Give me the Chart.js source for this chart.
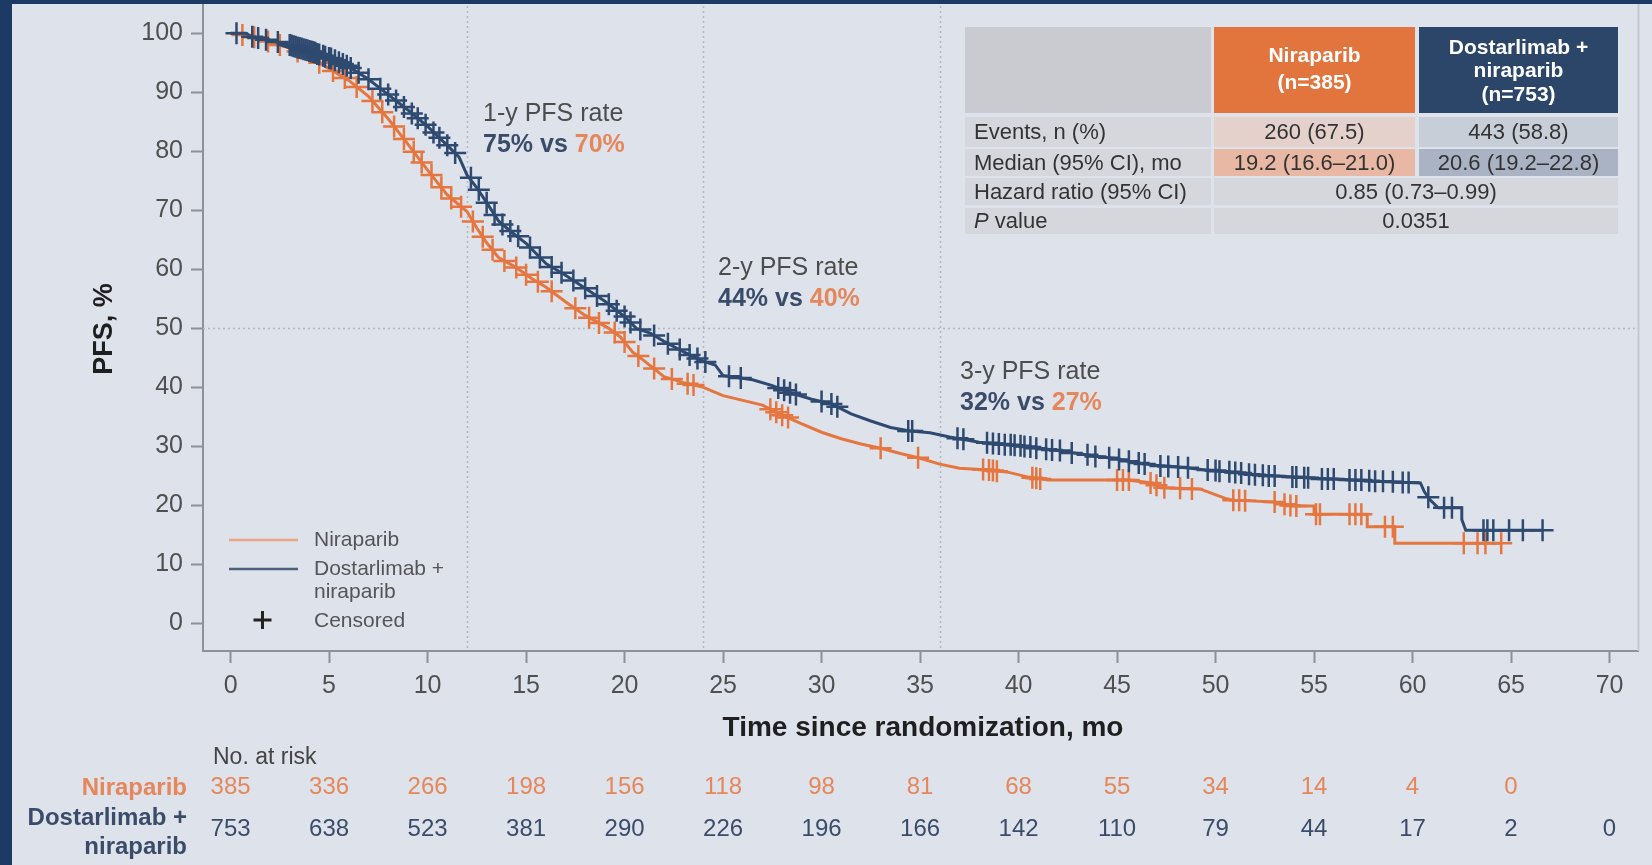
<!DOCTYPE html>
<html>
<head>
<meta charset="utf-8">
<script src="https://cdn.jsdelivr.net/npm/chart.js@4.4.1/dist/chart.umd.min.js"></script>
<style>
  html, body { margin: 0; padding: 0; background: #dee2ea; }
  #wrap { position: relative; width: 1652px; height: 865px; overflow: hidden; background: #dee2ea; }
  #wrap::before { content: ''; position: absolute; left: 0; top: 0; width: 12px; height: 865px; background: #1c3a64; }
  #wrap::after { content: ''; position: absolute; left: 0; top: 0; width: 1652px; height: 4px; background: #1c3a64; }
  canvas { position: absolute; left: 0; top: 0; }
</style>
</head>
<body>
<div id="wrap"><canvas id="km" width="1652" height="865"></canvas></div>
<script>
// ---- Axis ticks ----
const xTicks = [0, 5, 10, 15, 20, 25, 30, 35, 40, 45, 50, 55, 60, 65, 70];
const yTicks = [0, 10, 20, 30, 40, 50, 60, 70, 80, 90, 100];
const refMonths = [12, 24, 36];
const refPfs = 50;

// ---- Dostarlimab + niraparib: PFS curve (months, %) ----
const dostTime = [0, 0.8, 1, 2, 3, 4, 5, 6, 7, 8, 9, 10, 11, 11.6, 12, 12.5, 13, 13.6, 14.3, 15,
  16, 17, 18, 19, 20, 20.6, 21.3, 22, 23, 24, 24.6, 25.0, 26.5, 27.5, 28.5, 29.5, 30.5, 31.5, 32.5, 33.5,
  34.5, 35.5, 36.5, 38, 39.5, 41, 42, 43, 44, 45, 46, 47, 48.5, 49.5, 51, 52, 53.5, 55, 56.5, 58,
  60.4, 60.6, 60.9, 61.3, 62.5, 62.5, 62.7, 66.6];
const dostPfs = [100, 100, 99.5, 98.8, 98.0, 97.0, 95.8, 94.3, 92.2, 89.6, 87.0, 84.2, 81.0, 79.0, 76.0, 73.8, 71.3, 68.2, 66.2, 64.4,
  61.0, 59.0, 56.8, 54.6, 52.0, 50.0, 49.2, 47.8, 46.0, 44.4, 43.8, 42.0, 41.3, 40.3, 39.0, 38.0, 37.2, 35.5, 34.3, 33.2,
  32.6, 32.3, 31.6, 30.7, 30.3, 29.7, 29.3, 28.8, 28.3, 27.9, 27.2, 26.8, 26.4, 26.0, 25.6, 25.2, 24.9, 24.6, 24.4, 24.1,
  23.8, 22.3, 20.9, 19.6, 19.6, 17.6, 15.8, 15.8];

// ---- Niraparib: PFS curve (months, %) ----
const niraTime = [0, 1, 2, 3, 4, 5, 6, 7, 8, 9, 10, 11, 12, 12.5, 13, 13.6, 14.5, 15.3, 16, 17,
  18, 19.2, 19.8, 20.4, 21.0, 22.0, 23, 24, 25, 26, 27, 28, 29, 30, 31, 32, 33, 34, 35, 36,
  37, 38.5, 39.5, 40.5, 41.5, 45.5, 46.8, 47.2, 49.2, 50.5, 50.9, 53.0, 53.9, 55.0, 55.0, 57.7, 57.7, 59.1, 59.1, 64.5];
const niraPfs = [100, 99.5, 98.5, 97.5, 96.0, 94.0, 92.0, 89.3, 85.5, 81.2, 76.8, 72.6, 69.8, 67.0, 64.5, 62.0, 60.3, 58.4, 57.0, 54.5,
  52.2, 50.0, 48.5, 46.0, 44.5, 41.8, 40.8, 40.0, 38.6, 37.8, 37.0, 35.3, 33.8, 32.4, 31.3, 30.4, 29.7, 28.8, 28.0, 27.0,
  26.3, 26.0, 25.6, 24.8, 24.3, 24.3, 23.8, 23.0, 22.8, 21.2, 20.9, 20.6, 19.9, 19.9, 18.5, 18.5, 16.4, 16.4, 13.6, 13.6];

// ---- Censored observations (months, %) ----
const dostCensTime = [0.3, 1.1, 1.4, 1.8, 2.4, 3.0, 3.1, 3.2, 3.3, 3.4, 3.5, 3.6, 3.7, 3.8, 3.9, 4.0, 4.1, 4.2, 4.3, 4.4,
  4.5, 4.7, 4.8, 5.0, 5.1, 5.3, 5.5, 5.7, 5.9, 6.1, 6.5, 7.0,
  7.6, 8.0, 8.4, 8.8, 9.2, 9.5, 9.9, 10.3, 10.6, 11.0, 11.4, 12.2, 12.6, 13.0, 13.4, 13.8, 14.2, 14.6, 15.2, 15.7,
  16.3, 16.8, 17.4, 18.0, 18.6, 19.2, 19.6, 20.0, 20.3, 20.8, 21.5, 22.2, 22.8, 23.3, 23.7, 24.1, 25.3, 25.9, 27.8, 28.1,
  28.4, 28.7, 30.0, 30.5, 30.8, 34.4, 34.6, 36.9, 37.2, 38.4, 38.7, 39.0, 39.3, 39.6, 39.8, 40.1, 40.3, 40.6, 40.9, 41.4,
  41.7, 42.1, 42.7, 43.5, 43.9, 44.6, 45.1, 45.6, 46.1, 46.4, 47.2, 47.6, 48.1, 48.6, 49.6, 50.0, 50.2, 50.7, 51.0, 51.3,
  51.7, 52.0, 52.4, 52.7, 53.0, 53.9, 54.1, 54.5, 54.7, 55.4, 55.7, 56.0, 56.8, 57.1, 57.4, 57.8, 58.1, 58.5, 59.0, 59.5,
  59.8, 60.8, 61.6, 62.0, 63.6, 63.8, 64.1, 64.9, 65.6, 66.6];
const dostCensPfs = [100, 99.4, 99.2, 98.9, 98.5, 98.0, 97.9, 97.8, 97.7, 97.6, 97.5, 97.4, 97.3, 97.2, 97.1, 97.0, 96.9, 96.8, 96.7, 96.5,
  96.4, 96.2, 96.0, 95.8, 95.7, 95.4, 95.1, 94.8, 94.5, 94.1, 93.3, 92.2,
  90.6, 89.6, 88.6, 87.5, 86.4, 85.6, 84.5, 83.2, 82.3, 81.0, 79.7, 75.5, 73.5, 71.3, 69.2, 67.6, 66.5, 65.6, 63.7, 62.0,
  60.4, 59.4, 58.1, 56.8, 55.5, 54.1, 53.0, 52.0, 51.0, 49.8, 48.8, 47.4, 46.4, 45.5, 44.9, 44.3, 41.9, 41.6, 39.9, 39.5,
  39.1, 38.8, 37.6, 37.2, 36.7, 32.6, 32.6, 31.4, 31.2, 30.6, 30.5, 30.4, 30.3, 30.3, 30.2, 30.1, 30.0, 29.9, 29.7, 29.5,
  29.4, 29.3, 28.9, 28.6, 28.3, 28.1, 27.8, 27.5, 27.2, 27.0, 26.7, 26.6, 26.5, 26.4, 26.0, 25.9, 25.8, 25.7, 25.6, 25.5,
  25.3, 25.2, 25.1, 25.0, 25.0, 24.8, 24.8, 24.7, 24.7, 24.5, 24.5, 24.5, 24.3, 24.3, 24.3, 24.2, 24.1, 24.1, 24.0, 23.9,
  23.9, 21.4, 19.6, 19.6, 15.8, 15.8, 15.8, 15.8, 15.8, 15.8];

const niraCensTime = [0.6, 1.2, 1.9, 2.5, 3.4, 4.5, 5.2, 5.8, 6.4, 7.2, 7.7, 8.3, 8.8, 9.3, 9.7, 10.2, 10.7, 11.2, 11.7, 12.3,
  12.8, 13.3, 13.9, 14.5, 15.0, 15.6, 16.3, 17.5, 18.2, 18.7, 19.5, 20.0, 20.7, 21.5, 22.4, 23.2, 23.5, 27.4, 27.7, 28.0,
  28.3, 33.0, 34.9, 38.2, 38.5, 38.7, 38.9, 40.7, 40.9, 41.1, 45.0, 45.3, 45.6, 46.7, 47.0, 47.4, 48.2, 48.8, 50.9, 51.2,
  51.5, 53.0, 53.5, 53.8, 54.1, 55.1, 55.3, 56.8, 57.1, 57.4, 58.6, 59.0, 62.6, 63.3, 63.7, 64.5];
const niraCensPfs = [99.7, 99.3, 98.6, 98.0, 96.9, 95.0, 93.6, 92.4, 90.9, 88.5, 86.6, 84.2, 82.1, 79.9, 78.1, 76.0, 73.9, 72.0, 70.6, 68.1,
  65.5, 63.3, 61.4, 60.3, 59.1, 57.9, 56.3, 53.4, 51.8, 50.9, 49.3, 47.7, 45.3, 43.2, 41.4, 40.6, 40.4, 36.3, 35.8, 35.3,
  34.9, 29.7, 28.1, 26.1, 26.0, 25.9, 25.8, 24.7, 24.6, 24.5, 24.3, 24.3, 24.3, 23.8, 23.4, 23.0, 22.9, 22.8, 20.9, 20.9,
  20.8, 20.6, 20.2, 20.0, 19.9, 18.5, 18.5, 18.5, 18.5, 18.5, 16.4, 16.4, 13.6, 13.6, 13.6, 13.6];

// ---- Number at risk ----
const riskMonths = [0, 5, 10, 15, 20, 25, 30, 35, 40, 45, 50, 55, 60, 65, 70];
const niraRisk = [385, 336, 266, 198, 156, 118, 98, 81, 68, 55, 34, 14, 4, 0];
const dostRisk = [753, 638, 523, 381, 290, 226, 196, 166, 142, 110, 79, 44, 17, 2, 0];

// ---- Landmark PFS rates ----
const rateLabels = ['1-y PFS rate', '2-y PFS rate', '3-y PFS rate'];
const dostRates = [75, 44, 32];
const niraRates = [70, 40, 27];

// ---- Summary table text ----
const tableRowLabels = ['Events, n (%)', 'Median (95% CI), mo', 'Hazard ratio (95% CI)', 'value'];
const niraColumn = ['260 (67.5)', '19.2 (16.6\u201321.0)'];
const dostColumn = ['443 (58.8)', '20.6 (19.2\u201322.8)'];
const sharedColumn = ['0.85 (0.73\u20130.99)', '0.0351'];

const NAVY = '#2e4a70';
const ORANGE = '#e5763f';
const NAVY_TXT = '#3b4c6b';
const ORANGE_TXT = '#e5875a';
const AXIS = '#8d9199';
const FONT = "'Liberation Sans', Arial, Helvetica, sans-serif";

Chart.defaults.font.family = FONT;

const pairs = (xs, ys) => xs.map((x, i) => ({ x, y: ys[i] }));

function text(ctx, str, x, y, size, color, align = 'left', weight = 'normal', style = 'normal') {
  ctx.font = `${style} ${weight} ${size}px ${FONT}`;
  ctx.fillStyle = color;
  ctx.textAlign = align;
  ctx.textBaseline = 'middle';
  ctx.fillText(str, x, y);
  return ctx.measureText(str).width;
}

function seg(ctx, x1, y1, x2, y2) {
  ctx.beginPath();
  ctx.moveTo(x1, y1);
  ctx.lineTo(x2, y2);
  ctx.stroke();
}

const decorations = {
  id: 'decorations',
  beforeDatasetsDraw(chart) {
    const { ctx, chartArea: a, scales: { x, y } } = chart;
    ctx.save();
    // dotted landmark guides
    ctx.strokeStyle = '#b3b8c2';
    ctx.lineWidth = 1.5;
    ctx.setLineDash([2, 3]);
    refMonths.forEach(m => {
      const px = Math.round(x.getPixelForValue(m)) + 0.5;
      seg(ctx, px, 6, px, a.bottom);
    });
    const py = Math.round(y.getPixelForValue(refPfs)) + 0.5;
    seg(ctx, a.left, py, a.right, py);
    ctx.setLineDash([]);
    // frame: left axis runs up to the top band, light right edge
    ctx.strokeStyle = AXIS;
    ctx.lineWidth = 2;
    seg(ctx, a.left, 4, a.left, a.top + 1);
    ctx.strokeStyle = '#c4c8d0';
    seg(ctx, a.right, 4, a.right, a.bottom);
    ctx.restore();
  },
  afterDraw(chart) {
    const { ctx, scales: { x } } = chart;
    ctx.save();

    // axis titles
    text(ctx, 'Time since randomization, mo', 923, 728, 28, '#1f1f1f', 'center', 'bold');
    ctx.save();
    ctx.translate(105, 329);
    ctx.rotate(-Math.PI / 2);
    text(ctx, 'PFS, %', 0, 0, 27, '#1f1f1f', 'center', 'bold');
    ctx.restore();

    // landmark rate annotations
    const rateAnchor = [[483, 114], [718, 268], [960, 372]];
    rateLabels.forEach((lbl, i) => {
      const [ax, ay] = rateAnchor[i];
      text(ctx, lbl, ax, ay, 25, '#4d4d4d');
      const w = text(ctx, `${dostRates[i]}% vs `, ax, ay + 31, 25, NAVY_TXT, 'left', 'bold');
      text(ctx, `${niraRates[i]}%`, ax + w, ay + 31, 25, ORANGE_TXT, 'left', 'bold');
    });

    // legend
    ctx.lineWidth = 2.5;
    ctx.strokeStyle = '#eaa584';
    seg(ctx, 229, 540, 298, 540);
    ctx.strokeStyle = '#4d607f';
    seg(ctx, 229, 569, 298, 569);
    ctx.strokeStyle = '#222';
    ctx.lineWidth = 3;
    seg(ctx, 262.5, 611, 262.5, 629);
    seg(ctx, 253.5, 620, 271.5, 620);
    text(ctx, 'Niraparib', 314, 540, 21, '#555');
    text(ctx, 'Dostarlimab +', 314, 569, 21, '#555');
    text(ctx, 'niraparib', 314, 592, 21, '#555');
    text(ctx, 'Censored', 314, 621, 21, '#555');

    // number at risk
    text(ctx, 'No. at risk', 213, 758, 23, '#444');
    text(ctx, 'Niraparib', 187, 788, 24, ORANGE_TXT, 'right', 'bold');
    text(ctx, 'Dostarlimab +', 187, 818, 24, NAVY_TXT, 'right', 'bold');
    text(ctx, 'niraparib', 187, 847, 24, NAVY_TXT, 'right', 'bold');
    niraRisk.forEach((n, i) => text(ctx, String(n), x.getPixelForValue(riskMonths[i]), 787, 24, ORANGE_TXT, 'center'));
    dostRisk.forEach((n, i) => text(ctx, String(n), x.getPixelForValue(riskMonths[i]), 829, 24, NAVY_TXT, 'center'));

    // summary table
    const L = 965, LR = 1211, OL = 1214, OR = 1415, NL = 1419, NR = 1618;
    const rows = [[117, 147], [149, 176], [178, 205], [208, 234]];
    ctx.fillStyle = '#c9cbd0'; ctx.fillRect(L, 27, LR - L, 86);
    ctx.fillStyle = '#e2743e'; ctx.fillRect(OL, 27, OR - OL, 86);
    ctx.fillStyle = '#2c4669'; ctx.fillRect(NL, 27, NR - NL, 86);
    const oc = (OL + OR) / 2, nc = (NL + NR) / 2, sc = (OL + NR) / 2;
    text(ctx, 'Niraparib', oc, 56, 21, '#fff', 'center', 'bold');
    text(ctx, '(n=385)', oc, 83, 21, '#fff', 'center', 'bold');
    text(ctx, 'Dostarlimab +', nc, 48, 21, '#fff', 'center', 'bold');
    text(ctx, 'niraparib', nc, 71, 21, '#fff', 'center', 'bold');
    text(ctx, '(n=753)', nc, 95, 21, '#fff', 'center', 'bold');
    const oFill = ['#e5d1cc', '#e8b8a4'];
    const nFill = ['#c8ced8', '#a9b3c4'];
    rows.forEach(([t, b], i) => {
      const cy = (t + b) / 2 + 1;
      ctx.fillStyle = '#d5d7dc'; ctx.fillRect(L, t, LR - L, b - t);
      if (i < 2) {
        ctx.fillStyle = oFill[i]; ctx.fillRect(OL, t, OR - OL, b - t);
        ctx.fillStyle = nFill[i]; ctx.fillRect(NL, t, NR - NL, b - t);
        text(ctx, niraColumn[i], oc, cy, 22, '#333', 'center');
        text(ctx, dostColumn[i], nc, cy, 22, '#333', 'center');
      } else {
        ctx.fillStyle = '#d5d7dc'; ctx.fillRect(OL, t, NR - OL, b - t);
        text(ctx, sharedColumn[i - 2], sc, cy, 22, '#333', 'center');
      }
      if (i === 3) {
        const w = text(ctx, 'P', 974, cy, 22, '#333', 'left', 'normal', 'italic');
        text(ctx, ' ' + tableRowLabels[i], 974 + w, cy, 22, '#333');
      } else {
        text(ctx, tableRowLabels[i], 974, cy, 22, '#333');
      }
    });

    ctx.restore();
  }
};

new Chart(document.getElementById('km'), {
  type: 'scatter',
  data: {
    datasets: [
      { label: 'Dostarlimab + niraparib censored', data: pairs(dostCensTime, dostCensPfs), showLine: false,
        pointStyle: 'cross', pointRadius: 11, pointBorderWidth: 2.5, pointBorderColor: NAVY, pointBackgroundColor: NAVY },
      { label: 'Dostarlimab + niraparib', data: pairs(dostTime, dostPfs), showLine: true, borderColor: NAVY,
        borderWidth: 3, pointRadius: 0, tension: 0 },
      { label: 'Niraparib censored', data: pairs(niraCensTime, niraCensPfs), showLine: false,
        pointStyle: 'cross', pointRadius: 11, pointBorderWidth: 2.5, pointBorderColor: ORANGE, pointBackgroundColor: ORANGE },
      { label: 'Niraparib', data: pairs(niraTime, niraPfs), showLine: true, borderColor: ORANGE,
        borderWidth: 3, pointRadius: 0, tension: 0 }
    ]
  },
  options: {
    responsive: false,
    animation: false,
    devicePixelRatio: 1,
    layout: { padding: { left: 0, top: 3, right: 12, bottom: 0 } },
    plugins: { legend: { display: false }, tooltip: { enabled: false } },
    scales: {
      x: {
        type: 'linear', min: -1.4, max: 71.47,
        afterBuildTicks: axis => { axis.ticks = xTicks.map(v => ({ value: v })); },
        afterFit: axis => { axis.height = 214; axis.paddingLeft = 0; axis.paddingRight = 0; },
        grid: { drawOnChartArea: false, drawTicks: true, tickLength: 12, tickWidth: 2, tickColor: AXIS },
        border: { display: true, color: AXIS, width: 2 },
        ticks: { color: '#505050', font: { size: 25 }, padding: 8, maxRotation: 0, autoSkip: false }
      },
      y: {
        type: 'linear', min: -4.66, max: 103.34,
        afterBuildTicks: axis => { axis.ticks = yTicks.map(v => ({ value: v })); },
        afterFit: axis => { axis.width = 203; axis.paddingTop = 0; axis.paddingBottom = 0; },
        grid: { drawOnChartArea: false, drawTicks: true, tickLength: 12, tickWidth: 2, tickColor: AXIS },
        border: { display: true, color: AXIS, width: 2 },
        ticks: { color: '#505050', font: { size: 25 }, padding: 8, autoSkip: false }
      }
    }
  },
  plugins: [decorations]
});
</script>
</body>
</html>
